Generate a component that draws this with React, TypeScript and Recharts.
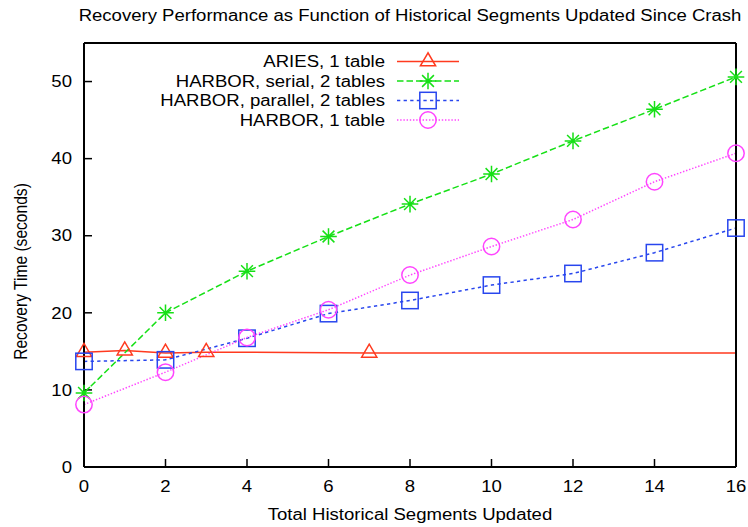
import React from 'react';
import { LineChart, Line, XAxis, YAxis, Legend, Label } from 'recharts';

// ---- data ----
const seriesNames = [
  'ARIES, 1 table',
  'HARBOR, serial, 2 tables',
  'HARBOR, parallel, 2 tables',
  'HARBOR, 1 table',
];
const segmentsX = [0, 2, 4, 6, 8, 10, 12, 14, 16];
const ariesX = [0, 1, 2, 3, 7, 20];
const ariesY = [14.9, 15.1, 14.8, 14.9, 14.8, 14.8];
const harborSerialY = [9.6, 20.0, 25.4, 29.9, 34.1, 38.0, 42.3, 46.4, 50.6];
const harborParallelY = [13.7, 13.9, 16.7, 19.9, 21.6, 23.6, 25.1, 27.8, 31.0];
const harborOneY = [8.1, 12.3, 16.8, 20.4, 24.9, 28.6, 32.1, 37.0, 40.7];
const xTicks = [0, 2, 4, 6, 8, 10, 12, 14, 16];
const yTicks = [0, 10, 20, 30, 40, 50];
const xDomain = [0, 16];
const yDomain = [0, 55];

const title = 'Recovery Performance as Function of Historical Segments Updated Since Crash';
const xLabel = 'Total Historical Segments Updated';
const yLabel = 'Recovery Time (seconds)';

const toPoints = (xs: number[], ys: number[]) => xs.map((x, i) => ({ x, y: ys[i] }));
const ariesData = toPoints(ariesX, ariesY);
const ariesVisible = ariesData.filter((d) => d.x <= xDomain[1]);
const serialData = toPoints(segmentsX, harborSerialY);
const parallelData = toPoints(segmentsX, harborParallelY);
const oneData = toPoints(segmentsX, harborOneY);

// ---- styles ----
const FONT = '"Liberation Sans", Arial, Helvetica, sans-serif';
const FS = 16;
const SX = 1.16;
type Kind = 'triangle' | 'star' | 'square' | 'circle';
const seriesStyles: { color: string; dash?: string; kind: Kind }[] = [
  { color: '#ff3a1f', dash: undefined, kind: 'triangle' },
  { color: '#16e016', dash: '6.5 3', kind: 'star' },
  { color: '#2846ee', dash: '3.3 3.3', kind: 'square' },
  { color: '#ff44ff', dash: '1.4 1.8', kind: 'circle' },
];

function SText(props: any) {
  const { x, y, anchor, dy, children, rotate } = props;
  const transform = rotate
    ? `translate(${x} ${y}) rotate(-90) scale(1 ${SX})`
    : `translate(${x} ${y}) scale(${SX} 1)`;
  return (
    <text
      x={0}
      y={0}
      dy={dy}
      transform={transform}
      textAnchor={anchor}
      fontFamily={FONT}
      fontSize={rotate ? 15.6 : FS}
      fill="#000"
    >
      {children}
    </text>
  );
}

function MarkerShape(props: any) {
  const { cx, cy, kind, color } = props;
  if (cx == null || cy == null || isNaN(cx) || isNaN(cy)) return null;
  const sw = 1.5;
  if (kind === 'triangle') {
    return (
      <polygon
        points={`${cx},${cy - 8.7} ${cx - 7.6},${cy + 4.3} ${cx + 7.6},${cy + 4.3}`}
        fill="none"
        stroke={color}
        strokeWidth={sw}
      />
    );
  }
  if (kind === 'star') {
    const a = 8.3;
    const d = 5.9;
    return (
      <path
        d={`M${cx - a},${cy}H${cx + a}M${cx},${cy - a}V${cy + a}M${cx - d},${cy - d}L${cx + d},${cy + d}M${cx - d},${cy + d}L${cx + d},${cy - d}`}
        fill="none"
        stroke={color}
        strokeWidth={sw}
      />
    );
  }
  if (kind === 'square') {
    return <rect x={cx - 8.2} y={cy - 8.2} width={16.4} height={16.4} fill="none" stroke={color} strokeWidth={sw} />;
  }
  return <circle cx={cx} cy={cy} r={8.2} fill="none" stroke={color} strokeWidth={sw} />;
}

const renderLegend = (props: any) => {
  const payload: any[] = props.payload || [];
  const ordered = seriesNames
    .map((name) => payload.find((p) => p.value === name))
    .filter(Boolean);
  return (
    <svg width={748} height={140} style={{ display: 'block', overflow: 'visible' }}>
      {ordered.map((entry: any, i: number) => {
        const idx = seriesNames.indexOf(entry.value);
        const s = seriesStyles[idx];
        const y = 61.5 + i * 19.5;
        return (
          <g key={entry.value}>
            <SText x={385} y={y + 5.8} anchor="end">
              {entry.value}
            </SText>
            <line x1={397} x2={459} y1={y} y2={y} stroke={s.color} strokeWidth={1.5} strokeDasharray={s.dash} />
            <MarkerShape cx={428} cy={y} kind={s.kind} color={s.color} />
          </g>
        );
      })}
    </svg>
  );
};

const bottomTick = (p: any) => (
  <SText key={`bt-${p.index}`} x={p.x} y={p.y} anchor="middle" dy="0.71em">
    {p.payload.value}
  </SText>
);
const leftTick = (p: any) => (
  <SText key={`lt-${p.index}`} x={p.x} y={p.y} anchor="end" dy="0.355em">
    {p.payload.value}
  </SText>
);

const axisLineStyle = { stroke: '#000', strokeWidth: 2 };
const tickLineStyle = { stroke: '#000', strokeWidth: 1.5 };

const markerDot = (i: number) => (p: any) =>
  <MarkerShape key={`m${i}-${p.index}`} {...p} kind={seriesStyles[i].kind} color={seriesStyles[i].color} />;

export default function App() {
  return (
    <div style={{ position: 'absolute', left: 0, top: 0, width: 748, height: 527, background: '#fff' }}>
      <LineChart width={748} height={527} margin={{ top: 0, right: 0, bottom: 0, left: 0 }}>
        <XAxis
          xAxisId="bottom"
          dataKey="x"
          type="number"
          orientation="bottom"
          domain={xDomain}
          ticks={xTicks}
          height={60}
          tickSize={-8}
          tickMargin={21.7}
          axisLine={axisLineStyle}
          tickLine={tickLineStyle}
          tick={bottomTick}
        >
          <Label content={() => <SText x={410} y={520} anchor="middle">{xLabel}</SText>} />
        </XAxis>
        <XAxis
          xAxisId="top"
          dataKey="x"
          type="number"
          orientation="top"
          domain={xDomain}
          allowDataOverflow
          ticks={xTicks}
          height={43}
          tickSize={-8}
          axisLine={axisLineStyle}
          tickLine={tickLineStyle}
          tick={false}
        >
          <Label content={() => <SText x={410} y={20.5} anchor="middle">{title}</SText>} />
        </XAxis>
        <YAxis
          yAxisId="left"
          type="number"
          orientation="left"
          domain={yDomain}
          ticks={yTicks}
          width={84}
          tickSize={-8}
          tickMargin={20}
          axisLine={axisLineStyle}
          tickLine={tickLineStyle}
          tick={leftTick}
        >
          <Label content={() => <SText x={26.5} y={271.5} anchor="middle" rotate>{yLabel}</SText>} />
        </YAxis>
        <YAxis
          yAxisId="right"
          type="number"
          orientation="right"
          domain={yDomain}
          ticks={yTicks}
          width={12}
          tickSize={-8}
          axisLine={axisLineStyle}
          tickLine={tickLineStyle}
          tick={false}
        />
        <Line
          name={seriesNames[0]}
          data={ariesData}
          dataKey="y"
          xAxisId="top"
          yAxisId="left"
          stroke={seriesStyles[0].color}
          strokeWidth={1.5}
          dot={false}
          activeDot={false}
          isAnimationActive={false}
        />
        <Line
          name="ARIES markers"
          data={ariesVisible}
          dataKey="y"
          xAxisId="bottom"
          yAxisId="left"
          stroke="none"
          legendType="none"
          dot={markerDot(0)}
          activeDot={false}
          isAnimationActive={false}
        />
        <Line
          name={seriesNames[1]}
          data={serialData}
          dataKey="y"
          xAxisId="bottom"
          yAxisId="left"
          stroke={seriesStyles[1].color}
          strokeWidth={1.5}
          strokeDasharray={seriesStyles[1].dash}
          dot={markerDot(1)}
          activeDot={false}
          isAnimationActive={false}
        />
        <Line
          name={seriesNames[2]}
          data={parallelData}
          dataKey="y"
          xAxisId="bottom"
          yAxisId="left"
          stroke={seriesStyles[2].color}
          strokeWidth={1.5}
          strokeDasharray={seriesStyles[2].dash}
          dot={markerDot(2)}
          activeDot={false}
          isAnimationActive={false}
        />
        <Line
          name={seriesNames[3]}
          data={oneData}
          dataKey="y"
          xAxisId="bottom"
          yAxisId="left"
          stroke={seriesStyles[3].color}
          strokeWidth={1.5}
          strokeDasharray={seriesStyles[3].dash}
          dot={markerDot(3)}
          activeDot={false}
          isAnimationActive={false}
        />
        <Legend
          layout="vertical"
          verticalAlign="middle"
          align="center"
          content={renderLegend}
          wrapperStyle={{ left: 0, top: 0, width: 748, height: 140, pointerEvents: 'none' }}
        />
      </LineChart>
    </div>
  );
}
